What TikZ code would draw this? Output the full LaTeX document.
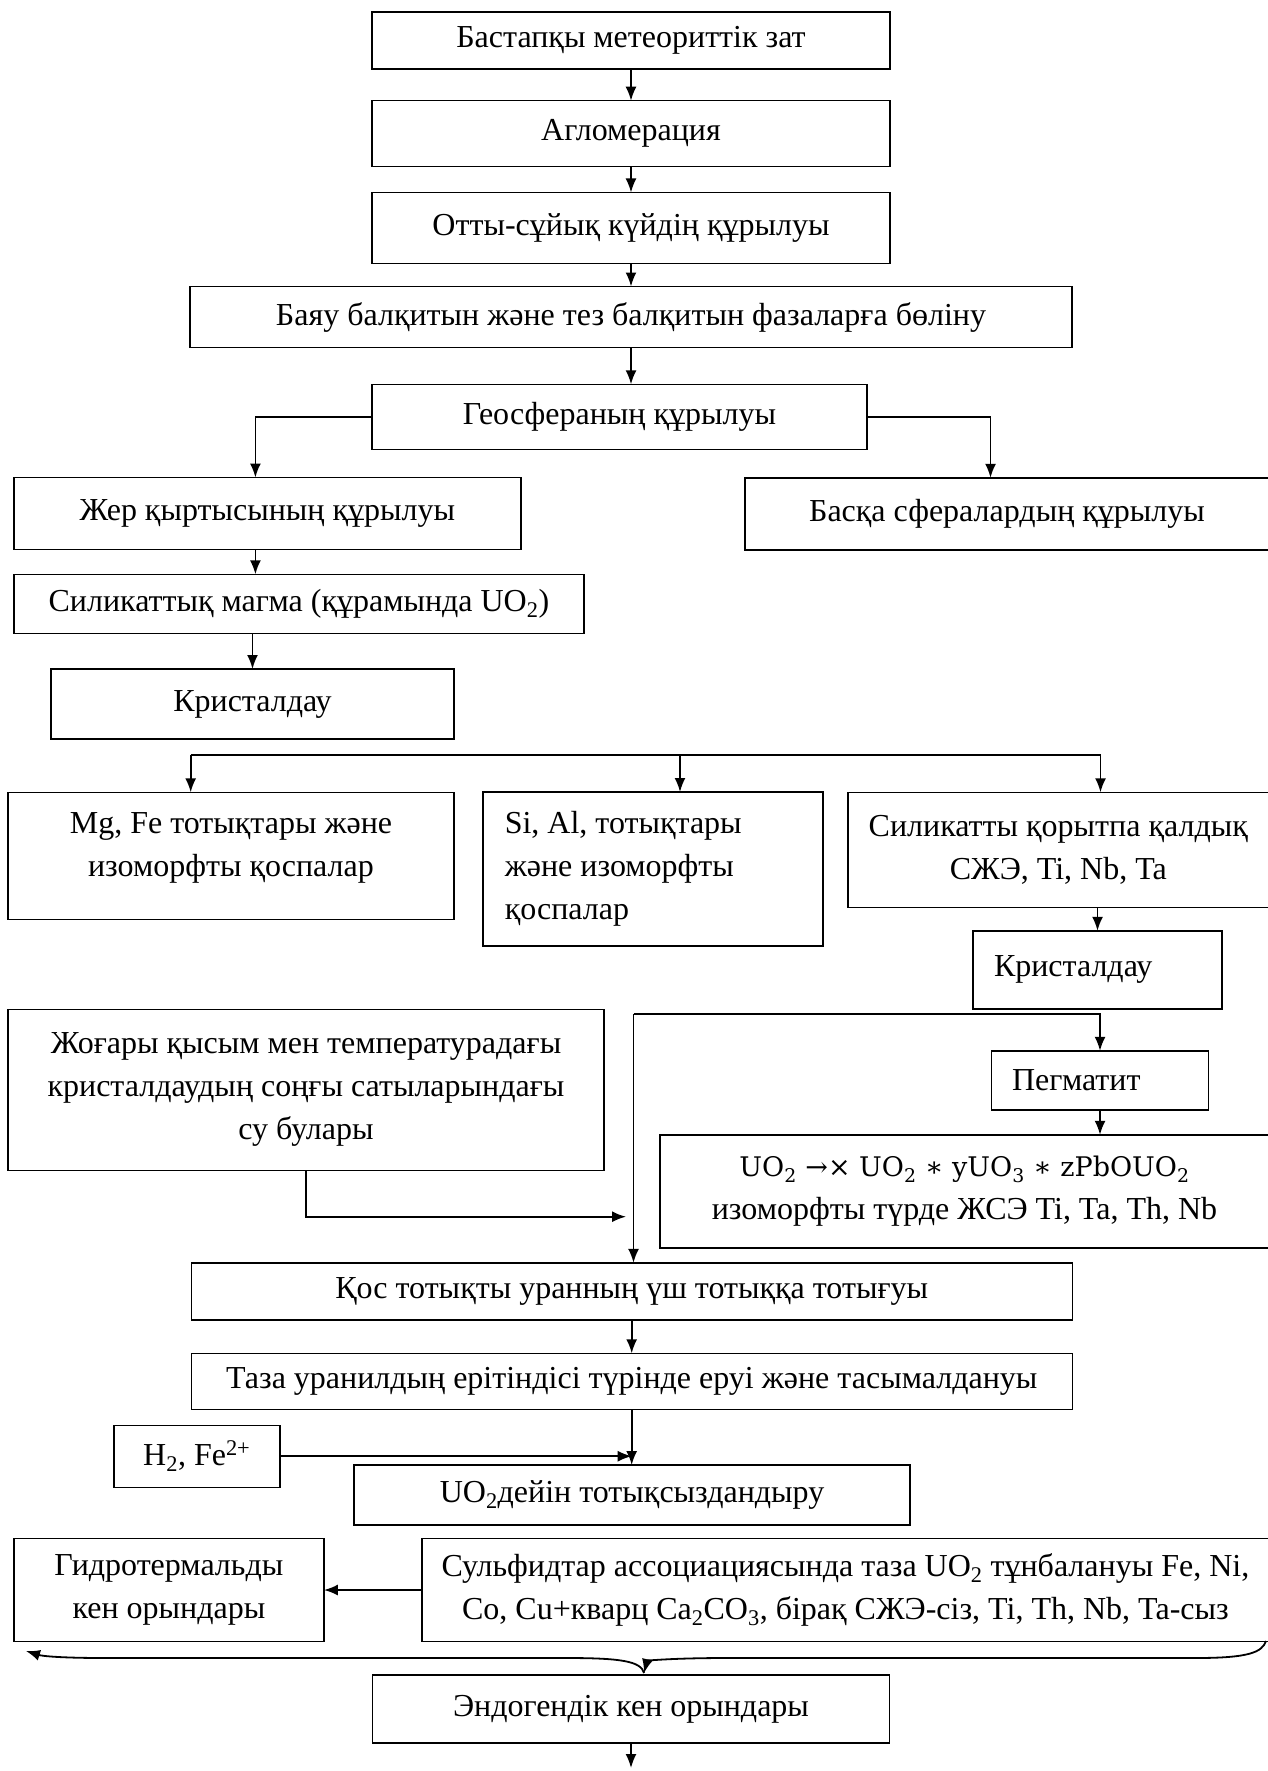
\documentclass[tikz,border=0pt]{standalone}
\usepackage{fontspec}
\setmainfont{Liberation Serif}
\newfontfamily\formfont{DejaVu Serif}
\usepackage{tikz}
\usetikzlibrary{arrows.meta}
\tikzset{
  stage/.style={draw, rectangle, line width=1.4pt, inner sep=0pt, outer sep=0pt,
    align=center, font=\fontsize{32pt}{43pt}\selectfont},
  link/.style={line width=1.8pt},
  flow/.style={link, -{Latex[length=14pt,width=11pt]}},
}

\begin{document}
\frenchspacing
\begin{tikzpicture}[x=1pt, y=-1pt]
  \useasboundingbox (0,0) rectangle (1267,1771);

  % Define nodes
  \node[stage, minimum width=518pt, minimum height=57pt] (meteor) at (631,40.5) {Бастапқы метеориттік зат};
  \node[stage, minimum width=518pt, minimum height=66pt] (agglom) at (631,133.7) {Агломерация};
  \node[stage, minimum width=518pt, minimum height=71pt] (melt) at (631,228) {Отты-сұйық күйдің құрылуы};
  \node[stage, minimum width=882pt, minimum height=61pt] (split) at (631,317) {Баяу балқитын және тез балқитын фазаларға бөліну};
  \node[stage, minimum width=495pt, minimum height=65pt] (geo) at (619.5,416.8) {Геосфераның құрылуы};

  \node[stage, minimum width=507pt, minimum height=72pt] (crust) at (267.4,513.5) {Жер қыртысының құрылуы};
  \node[stage, minimum width=524pt, minimum height=72pt] (other_sph) at (1007,513.8) {Басқа сфералардың құрылуы};
  \node[stage, minimum width=570pt, minimum height=59pt] (magma) at (298.9,603.8) {Силикаттық магма (құрамында UO\textsubscript{2})};
  \node[stage, minimum width=403pt, minimum height=70pt] (cryst_1) at (252.5,704) {Кристалдау};

  \node[stage, minimum width=446pt, minimum height=127pt, text depth=23pt] (mgfe) at (231,855.8) {Mg, Fe тотықтары және\\изоморфты қоспалар};
  \node[stage, minimum width=340pt, minimum height=154pt, text width=296pt, align=flush left] (sial) at (652.8,869) {Si, Al, тотықтары\\және изоморфты\\қоспалар};
  \node[stage, minimum width=421pt, minimum height=115pt] (resid) at (1058.3,849.8) {Силикатты қорытпа қалдық\\СЖЭ, Ti, Nb, Ta};
  \node[stage, minimum width=249pt, minimum height=78pt, text width=207pt, align=flush left] (cryst_2) at (1097.5,969.8) {Кристалдау};

  \node[stage, minimum width=596pt, minimum height=161pt] (vapour) at (306,1089.7) {Жоғары қысым мен температурадағы\\кристалдаудың соңғы сатыларындағы\\су булары};
  \node[stage, minimum width=217pt, minimum height=59pt, text width=176pt, align=flush left] (pegm) at (1100,1080.3) {Пегматит};
  \node[stage, minimum width=609pt, minimum height=113pt] (formula) at (964.5,1191.3) {{\formfont\fontsize{27pt}{43pt}\selectfont UO\textsubscript{2} →× UO\textsubscript{2} ∗ yUO\textsubscript{3} ∗ zPbOUO\textsubscript{2}}\\изоморфты түрде ЖСЭ Ti, Ta, Th, Nb};

  \node[stage, minimum width=881pt, minimum height=57pt] (oxid) at (631.7,1291.3) {Қос тотықты уранның үш тотыққа тотығуы};
  \node[stage, minimum width=881pt, minimum height=56pt] (trans) at (631.7,1381.3) {Таза уранилдың ерітіндісі түрінде еруі және тасымалдануы};
  \node[stage, minimum width=166pt, minimum height=62pt] (h2fe) at (196.8,1456.2) {H\textsubscript{2}, Fe\textsuperscript{2+}};
  \node[stage, minimum width=556pt, minimum height=60pt] (reduct) at (632,1495) {UO\textsubscript{2}дейін тотықсыздандыру};
  \node[stage, minimum width=310pt, minimum height=103pt] (hydro) at (168.9,1590) {Гидротермальды\\кен орындары};
  \node[stage, minimum width=847pt, minimum height=103pt] (sulf) at (845.4,1590) {Сульфидтар ассоциациясында таза UO\textsubscript{2} тұнбалануы Fe, Ni,\\Co, Cu+кварц Ca\textsubscript{2}CO\textsubscript{3}, бірақ СЖЭ-сіз, Ti, Th, Nb, Ta-сыз};
  \node[stage, minimum width=517pt, minimum height=68pt] (endo) at (631,1709) {Эндогендік кен орындары};

  % Free ends and junctions
  \coordinate (br_l) at (190.7,755);
  \coordinate (br_m) at (680,755);
  \coordinate (br_r) at (1100.5,755);
  \coordinate (fork) at (633.5,1014);
  \coordinate (vap_end) at (626,1216.7);
  \coordinate (brace_r) at (1266,1641);
  \coordinate (brace_l) at (26,1651);
  \coordinate (brace_m) at (644,1673);
  \coordinate (out_end) at (634,1768);

  % Connect nodes
  \draw[flow] (meteor) -- (agglom);
  \draw[flow] (agglom) -- (melt);
  \draw[flow] (melt) -- (split);
  \draw[flow] (split.south) -- (split.south |- geo.north);
  \draw[flow] (geo.west) -| ([xshift=-12pt]crust.north);
  \draw[flow] (geo.east) -| ([xshift=-16.5pt]other_sph.north);
  \draw[flow] ([xshift=-12pt]crust.south) -- ([xshift=-12pt]crust.south |- magma.north);
  \draw[flow] (cryst_1.north |- magma.south) -- (cryst_1.north);

  \draw[link] (br_l) -- (br_r);
  \draw[flow] (br_l) -- (br_l |- mgfe.north);
  \draw[flow] (br_m) -- (br_m |- sial.north);
  \draw[flow] (br_r) -- (br_r |- resid.north);
  \draw[flow] (cryst_2.north |- resid.south) -- (cryst_2.north);

  \draw[flow] (fork) -| (pegm.north);
  \draw[flow] (fork) -- (fork |- oxid.north);
  \draw[flow] (pegm.south) -- (pegm.south |- formula.north);
  \draw[flow] (vapour.south) |- (vap_end);

  \draw[flow] (oxid) -- (trans);
  \draw[flow] (trans.south) -- (trans.south |- reduct.north);
  \draw[flow] (h2fe.east) -- (h2fe.east -| trans.south);
  \draw[flow] (sulf.west) -- (hydro.east);

  % Brace under the deposits
  \draw[flow] (brace_r) .. controls (1262,1652) and (1250,1658) .. (1196,1658)
    -- (727,1658) .. controls (668,1658) and (647,1661) .. (brace_m);
  \draw[flow] (brace_m) .. controls (641,1661) and (620,1658) .. (566,1658)
    -- (105,1658) .. controls (60,1658) and (42,1656) .. (brace_l);
  \draw[flow] (endo.south) -- (endo.south |- out_end);

\end{tikzpicture}
\end{document}
